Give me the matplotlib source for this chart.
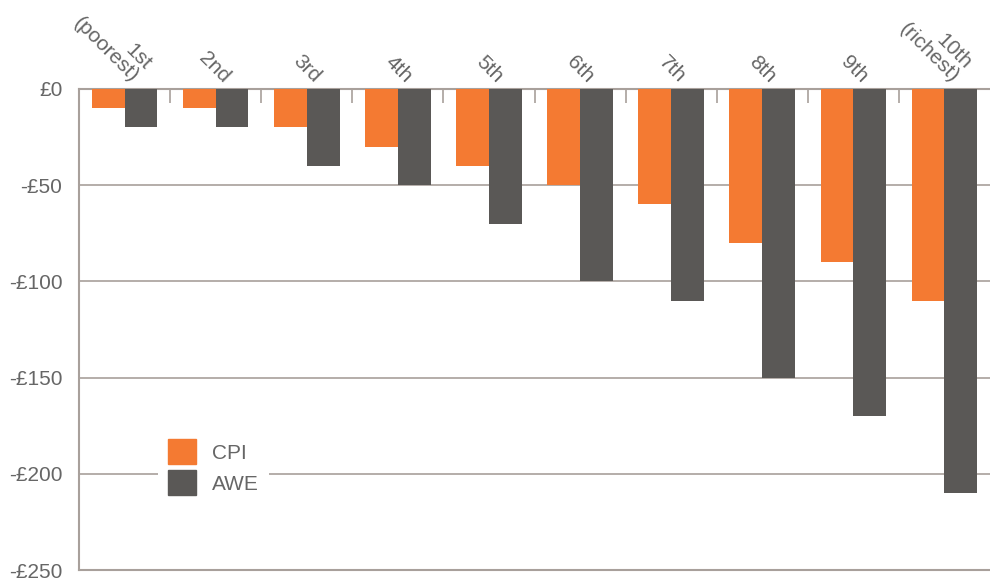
import numpy as np
import matplotlib.pyplot as plt
from matplotlib.patches import Patch

deciles = ["1st\n(poorest)", "2nd", "3rd", "4th", "5th", "6th", "7th", "8th", "9th", "10th\n(richest)"]
cpi = [-10, -10, -20, -30, -40, -50, -60, -80, -90, -110]
awe = [-20, -20, -40, -50, -70, -100, -110, -150, -170, -210]

ORANGE = "#F47A32"
DARK = "#5A5856"
GRID = "#A8A09B"
TEXT = "#666666"

plt.rcParams["font.family"] = ["Liberation Sans", "DejaVu Sans"]

fig = plt.figure(figsize=(9.9, 5.78), dpi=100)
ax = fig.add_axes([79 / 990, 1 - 570 / 578, 911 / 990, (570 - 89) / 578])

x = np.arange(len(deciles))
w = 0.36
ax.bar(x - w / 2, cpi, width=w, color=ORANGE, zorder=3, label="CPI")
ax.bar(x + w / 2, awe, width=w, color=DARK, zorder=3, label="AWE")

ax.set_xlim(-0.5, len(deciles) - 0.5)
ax.set_ylim(-250, 0)
yt = [0, -50, -100, -150, -200, -250]
ax.set_yticks(yt)
ax.set_yticklabels(["£0" if v == 0 else f"-£{abs(v)}" for v in yt])
ax.yaxis.grid(True, color=GRID, linewidth=1.2, zorder=1)
ax.tick_params(axis="y", length=0, pad=12, labelsize=15, labelcolor=TEXT)

# group separators hanging from the zero line
ax.set_xticks(np.arange(0.5, len(deciles) - 0.5, 1.0))
ax.xaxis.set_ticks_position("top")
ax.tick_params(axis="x", direction="in", length=10, color=GRID, width=1.2, labeltop=False)

for i, lab in enumerate(deciles):
    ax.annotate(lab, xy=(i, 0), xycoords="data", xytext=(3, 2), textcoords="offset points",
                rotation=-45, rotation_mode="anchor", ha="right", va="bottom",
                fontsize=15, color=TEXT, linespacing=0.95, annotation_clip=False)

for side in ["top", "left", "bottom"]:
    ax.spines[side].set_color(GRID)
    ax.spines[side].set_linewidth(1.5)
ax.spines["right"].set_visible(False)

handles = [Patch(color=ORANGE, label="CPI"), Patch(color=DARK, label="AWE")]
leg = ax.legend(handles=handles, loc="upper left", bbox_to_anchor=(0.075, 0.315),
                frameon=True, fontsize=15, handlelength=1.35, handleheight=1.45,
                labelspacing=0.3, handletextpad=0.75, borderpad=0.5)
leg.get_frame().set_facecolor("white")
leg.get_frame().set_edgecolor("none")
leg.get_frame().set_alpha(1)
leg.set_zorder(5)
for t in leg.get_texts():
    t.set_color(TEXT)

fig.savefig("out.png", dpi=100)
